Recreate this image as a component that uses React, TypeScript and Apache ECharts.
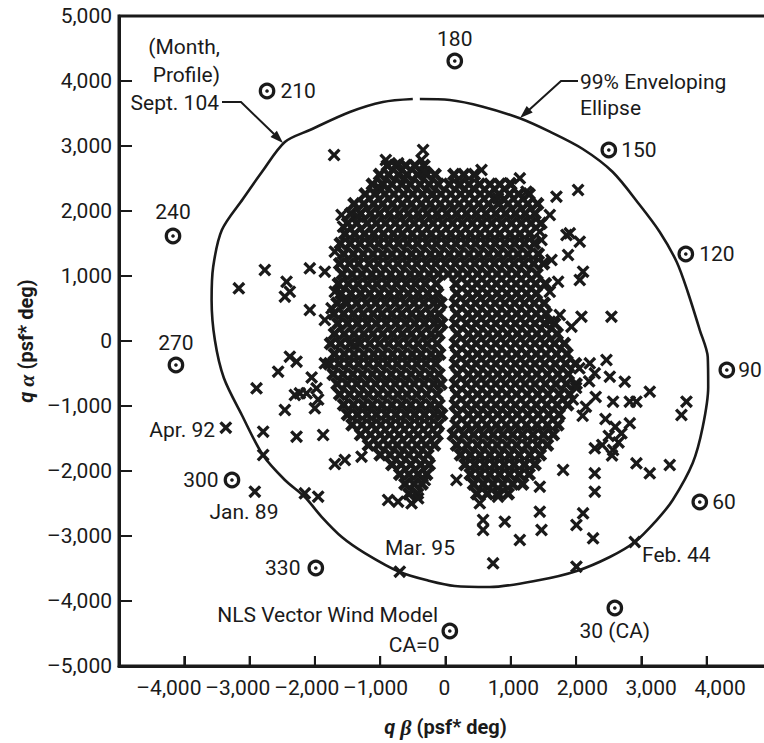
import { useEffect, useRef } from 'react';
import * as echarts from 'echarts';

const FONT = 'Roboto, "Liberation Sans", Arial, sans-serif';
const SERIF = '"Liberation Serif", "DejaVu Serif", serif';
const INK = '#1a1a1a';

// Axis extents (psf*deg)
const betaMin = -5000;
const betaMax = 5000;
const alphaMin = -5000;
const alphaMax = 5000;
const tickStep = 1000;
const tickValues = [-4000, -3000, -2000, -1000, 0, 1000, 2000, 3000, 4000];

// Monthly profiles of the NLS vector wind model (circled targets)
const profileNames = ['180', '210', '150', '240', '120', '270', '90', '300', '60', '330', '30 (CA)', 'CA=0'];
const profileBeta = [142, -2733, 2501, -4173, 3680, -4128, 4308, -3270, 3894, -1986, 2593, 66];
const profileAlpha = [4308, 3846, 2938, 1615, 1338, -369, -446, -2138, -2477, -3492, -4108, -4462];

// 99% enveloping ellipse, traced clockwise from the top
const envelopeBeta = [
  -393, 66, 571, 1138, 1597, 2102, 2561, 2975, 3281, 3541, 3710, 3894, 4016, 4023, 3939, 3786, 3480, 3235,
  2898, 2516, 2010, 1444, 678, 142, -240, -700, -1236, -1588, -1894, -2154, -2460, -2797, -3119, -3394,
  -3532, -3582, -3558, -3425, -3103, -2812, -2460, -2077, -1465, -960, -501,
];
const envelopeAlpha = [
  3723, 3708, 3605, 3426, 3220, 2954, 2600, 2092, 1677, 1215, 754, 169, -246, -708, -1323, -1877, -2446, -2754,
  -3092, -3323, -3538, -3677, -3785, -3769, -3692, -3554, -3262, -3015, -2708, -2400, -2138, -1754, -1138, -569,
  15, 631, 1138, 1708, 2185, 2600, 3062, 3246, 3523, 3677, 3723,
];

// Individual wind profiles lying apart from the main clusters  [q*beta, q*alpha]
const sparseMarks: number[][] = [
  [-1706, 2862], [-914, 2785], [-726, 2734], [-343, 2938], [-367, 2785], [-317, 2605], [-1032, 2374],
  [-980, 2323], [-623, 2503], [-214, 2246], [193, 2400], [551, 2631], [423, 2349], [984, 2426], [1138, 2503],
  [1240, 2297], [805, 2195], [1699, 2220], [2030, 2323], [1597, 1938], [1444, 1682], [1470, 1554], [1852, 1631],
  [2056, 1528], [1903, 1657], [1877, 1323], [1623, 1246], [2107, 1066], [2056, 938], [1724, 912], [1597, 758],
  [1597, 297], [1750, 400], [1929, 220], [2082, 374], [2541, 374],
  [-1592, 1938], [-1338, 1913], [-1568, 1759], [-1695, 1374], [-1848, 1066], [-2078, 1118], [-2767, 1092],
  [-3165, 811], [-2434, 912], [-2384, 758], [-2460, 682], [-2078, 477], [-1848, 323], [-1695, 758],
  [-1745, 503], [-1542, 605], [-1389, -62],
  [-2384, -241], [-2281, -318], [-2563, -472], [-2894, -728], [-2231, -805], [-2128, -805], [-1975, -728],
  [-2460, -1062], [-2001, -1036], [-2792, -1395], [-2281, -1472], [-1874, -1446], [-2792, -1754],
  [-2920, -2318], [-2154, -2343], [-1950, -2395], [-1695, -1892], [-1542, -1831], [-1286, -1780],
  [-879, -2446], [-726, -2472], [-520, -2497], [-419, -2420], [-700, -3549], [-317, -2138], [-3364, -1334],
  [-1848, -343], [-2307, -831], [-2050, -560], [-1950, -900],
  [2465, -292], [2286, -497], [2516, -549], [2745, -626], [3128, -780], [3690, -934], [3613, -1138],
  [2822, -934], [2924, -934], [2566, -934], [2822, -1266], [2694, -1420], [2566, -1677], [2924, -1882],
  [3128, -2036], [3434, -1908], [2286, -1651], [2286, -2036], [2286, -2318], [2107, -2651], [2005, -2831],
  [2260, -3036], [2898, -3092], [2005, -3472], [729, -3420], [1470, -2908], [1138, -3062], [908, -2780],
  [576, -2908], [576, -2754], [805, -2395], [525, -2497], [168, -2138], [1444, -2626], [1801, -1985],
  [1444, -2241], [2209, -343], [2450, -1200], [2600, -1320], [2500, -1460], [2650, -1560], [2400, -1600],
  [2550, -1760], [2050, -420], [2200, -620], [2000, -720], [2300, -860], [2150, -1010], [1950, -900],
  [2100, -1150],
];

// Dense body of the scatter, row by row: [q*alpha, q*beta values]
const denseRows: [number, number[]][] = [
  [2700, [-890, -760, -610, -470, -330]],
  [2560, [-1010, -870, -720, -590, -430, -290, -160, 130, 280, 440]],
  [2410, [-1120, -960, -820, -670, -540, -390, -250, -110, 60, 220, 360, 520, 680, 830, 1000]],
  [2260, [-1230, -1080, -930, -790, -640, -500, -350, -200, -70, 80, 230, 370, 530, 670, 820, 980, 1120, 1280]],
  [2110, [-1400, -1250, -1100, -960, -810, -660, -520, -370, -230, -80, 70, 210, 360, 510, 660, 810, 960, 1110, 1260, 1410]],
  [1960, [-1450, -1300, -1150, -1010, -860, -710, -570, -420, -280, -130, 20, 170, 320, 470, 620, 770, 920, 1070, 1220, 1370]],
  [1810, [-1500, -1360, -1200, -1060, -920, -770, -620, -480, -330, -190, -40, 110, 260, 410, 560, 710, 860, 1010, 1160, 1310, 1460]],
  [1650, [-1540, -1390, -1240, -1100, -950, -800, -660, -510, -360, -220, -70, 80, 230, 380, 530, 680, 830, 990, 1140, 1290]],
  [1500, [-1610, -1460, -1310, -1160, -1020, -870, -720, -580, -430, -280, -140, 10, 160, 310, 460, 610, 760, 910, 1060, 1210, 1360]],
  [1340, [-1560, -1410, -1260, -1110, -960, -820, -670, -520, -380, -230, -90, 60, 210, 360, 510, 660, 810, 960, 1110, 1260, 1420]],
  [1190, [-1620, -1470, -1330, -1170, -1030, -880, -730, -590, -440, -290, -150, 0, 150, 300, 450, 600, 750, 900, 1050, 1200, 1350, 1500]],
  [1030, [-1580, -1430, -1280, -1130, -990, -840, -690, -540, -400, -250, -110, 40, 190, 340, 490, 640, 790, 940, 1090, 1240, 1400]],
  [880, [-1640, -1490, -1340, -1190, -1050, -900, -750, -600, -460, -310, -140, 160, 330, 480, 630, 780, 930, 1080, 1230, 1380, 1530]],
  [730, [-1600, -1450, -1300, -1160, -1010, -860, -710, -570, -420, -270, -120, 170, 340, 490, 640, 790, 940, 1090, 1240, 1390]],
  [580, [-1660, -1510, -1360, -1210, -1070, -920, -770, -620, -480, -330, -180, -70, 150, 310, 460, 610, 760, 910, 1060, 1210, 1360, 1510]],
  [420, [-1710, -1560, -1410, -1260, -1110, -970, -820, -670, -520, -380, -230, -100, 170, 340, 490, 640, 790, 940, 1090, 1240, 1390, 1540]],
  [270, [-1650, -1500, -1350, -1200, -1060, -910, -760, -610, -470, -320, -170, -60, 150, 320, 470, 620, 770, 920, 1070, 1220, 1370, 1520, 1670]],
  [110, [-1700, -1550, -1400, -1250, -1110, -960, -810, -660, -520, -370, -220, -100, 180, 350, 500, 650, 800, 950, 1100, 1250, 1400, 1550, 1710]],
  [-40, [-1760, -1610, -1460, -1310, -1160, -1010, -870, -720, -570, -420, -280, -130, 150, 320, 470, 620, 770, 920, 1070, 1220, 1370, 1520, 1670, 1820]],
  [-200, [-1700, -1550, -1400, -1250, -1100, -960, -810, -660, -510, -370, -220, -90, 170, 340, 490, 640, 790, 940, 1090, 1240, 1390, 1540, 1700, 1860]],
  [-350, [-1780, -1630, -1480, -1330, -1180, -1030, -890, -740, -590, -440, -300, -150, 150, 320, 470, 620, 770, 920, 1070, 1220, 1370, 1520, 1680, 1840, 1990]],
  [-510, [-1720, -1570, -1420, -1270, -1120, -980, -830, -680, -530, -390, -240, -100, 180, 350, 500, 650, 800, 950, 1100, 1250, 1400, 1560, 1720, 1880]],
  [-660, [-1660, -1510, -1360, -1220, -1070, -920, -770, -620, -480, -330, -180, -70, 150, 320, 470, 620, 770, 920, 1070, 1220, 1370, 1530, 1690, 1850, 2000]],
  [-820, [-1620, -1470, -1320, -1180, -1030, -880, -730, -590, -440, -290, -130, 170, 340, 490, 640, 790, 940, 1090, 1250, 1410, 1570, 1740, 1900]],
  [-980, [-1560, -1410, -1260, -1120, -970, -820, -670, -530, -380, -230, -100, 150, 320, 470, 620, 770, 920, 1070, 1230, 1390, 1550, 1710, 1870]],
  [-1130, [-1500, -1350, -1200, -1060, -910, -760, -610, -470, -320, -170, -60, 180, 350, 500, 650, 800, 950, 1100, 1260, 1420, 1580, 1740]],
  [-1290, [-1430, -1280, -1130, -990, -840, -690, -550, -400, -250, -110, 160, 330, 480, 630, 780, 930, 1080, 1240, 1400, 1560, 1720]],
  [-1440, [-1300, -1150, -1000, -860, -710, -560, -420, -270, -130, 120, 280, 430, 580, 730, 880, 1030, 1180, 1340, 1500, 1650]],
  [-1600, [-1180, -1030, -880, -740, -590, -440, -300, -170, 170, 330, 490, 640, 790, 940, 1090, 1250, 1410, 1560]],
  [-1750, [-1000, -850, -700, -560, -410, -270, 230, 380, 530, 680, 830, 980, 1130, 1290, 1450]],
  [-1900, [-820, -680, -530, -380, -250, 300, 450, 600, 750, 900, 1050, 1210, 1370]],
  [-2050, [-700, -560, -420, -290, 380, 530, 680, 830, 980, 1130, 1280]],
  [-2200, [-620, -480, -360, 430, 580, 730, 880, 1030, 1180]],
  [-2350, [-560, -430, 480, 640, 800, 960]],
];

// Where each profile's label sits around its target
const labelPlacement: Record<string, { position: string; distance: number; offset?: number[] }> = {
  '180': { position: 'top', distance: 3 },
  '210': { position: 'right', distance: 5 },
  '150': { position: 'right', distance: 4 },
  '240': { position: 'top', distance: 5 },
  '120': { position: 'right', distance: 5 },
  '270': { position: 'top', distance: 3 },
  '90': { position: 'right', distance: 3 },
  '300': { position: 'left', distance: 5 },
  '60': { position: 'right', distance: 4 },
  '330': { position: 'left', distance: 7 },
  '30 (CA)': { position: 'bottom', distance: 4 },
  'CA=0': { position: 'left', distance: 2, offset: [0, 14] },
};

// Hand-drawn style crosses: a regular one and a heavier one for the packed core
const CROSS = 'path://M0,1.8L1.8,0L5,3.2L8.2,0L10,1.8L6.8,5L10,8.2L8.2,10L5,6.8L1.8,10L0,8.2L3.2,5Z';
const CROSS_HEAVY = 'path://M0,2.3L2.3,0L5,2.7L7.7,0L10,2.3L7.3,5L10,7.7L7.7,10L5,7.3L2.3,10L0,7.7L2.7,5Z';

function fmt(v: number): string {
  const s = Math.abs(v).toLocaleString('en-US');
  return v < 0 ? '\u2013' + s : s;
}

function note(text: string, x: number, y: number, align: string) {
  return {
    type: 'text',
    x,
    y,
    z: 20,
    style: {
      text,
      fill: INK,
      fontFamily: FONT,
      fontSize: 21,
      align,
      textAlign: align,
      verticalAlign: 'middle',
      textVerticalAlign: 'middle',
    },
  };
}

export default function App() {
  const ref = useRef<HTMLDivElement>(null);

  useEffect(() => {
    if (!ref.current) return;
    const chart = echarts.init(ref.current, null, { renderer: 'svg' });

    const dense = denseRows.flatMap(([alpha, betas]) => betas.map((b) => [b, alpha]));
    const envelope = envelopeBeta.map((b, i) => [b, envelopeAlpha[i]]);
    const profiles = profileNames.map((name, i) => {
      const p = labelPlacement[name];
      return {
        name,
        value: [profileBeta[i], profileAlpha[i]],
        label: {
          show: true,
          formatter: '{b}',
          position: p.position,
          distance: p.distance,
          offset: p.offset || [0, 0],
          fontFamily: FONT,
          fontSize: 21,
          color: INK,
        },
      };
    });
    const profileCenters = profileBeta.map((b, i) => [b, profileAlpha[i]]);

    const titleRich = {
      q: { fontFamily: FONT, fontSize: 20, fontWeight: 'bold', fontStyle: 'italic', color: INK },
      g: { fontFamily: SERIF, fontSize: 22, fontStyle: 'italic', color: INK },
    };

    const annotations: any[] = [
      note('(Month,', 220, 47, 'right'),
      note('Profile)', 220, 75, 'right'),
      note('Sept. 104', 219, 103, 'right'),
      note('99% Enveloping', 580, 82, 'left'),
      note('Ellipse', 580, 108, 'left'),
      note('Apr. 92', 215, 430, 'right'),
      note('Jan. 89', 244, 512, 'center'),
      note('Mar. 95', 420, 548, 'center'),
      note('NLS Vector Wind Model', 438, 615, 'right'),
      note('Feb. 44', 642, 555, 'left'),
      {
        type: 'polyline',
        z: 20,
        shape: { points: [[222, 102], [241, 102], [274, 134]] },
        style: { stroke: INK, lineWidth: 2, fill: null },
      },
      {
        type: 'polygon',
        z: 20,
        shape: { points: [[283, 143], [270.5, 137.1], [276.9, 130.7]] },
        style: { fill: INK },
      },
      {
        type: 'polyline',
        z: 20,
        shape: { points: [[578, 81], [561, 81], [529, 110]] },
        style: { stroke: INK, lineWidth: 2, fill: null },
      },
      {
        type: 'polygon',
        z: 20,
        shape: { points: [[520, 118], [532.7, 112.6], [526.7, 106.0]] },
        style: { fill: INK },
      },
    ];

    const option: any = {
      animation: false,
      backgroundColor: '#ffffff',
      grid: [
        {
          left: 119,
          top: 16,
          width: 653,
          height: 650,
          outerBoundsMode: 'none',
          show: true,
          borderColor: INK,
          borderWidth: 3,
          backgroundColor: 'transparent',
        },
        // the printed q*beta scale numbers run slightly wider than the tick marks
        { left: 100, top: 16, width: 689, height: 650, outerBoundsMode: 'none', show: false },
      ],
      xAxis: [
        {
          type: 'value',
          gridIndex: 0,
          min: betaMin,
          max: betaMax,
          interval: tickStep,
          name: '{q|q} {g|\u03b2} (psf* deg)',
          nameLocation: 'middle',
          nameGap: 50,
          nameMoveOverlap: false,
          nameTextStyle: {
            fontFamily: FONT,
            fontSize: 20,
            fontWeight: 'bold',
            color: INK,
            rich: titleRich,
          },
          axisLine: { show: true, onZero: false, lineStyle: { color: INK, width: 3 } },
          axisTick: { show: true, inside: true, length: 10, lineStyle: { color: INK, width: 2 } },
          axisLabel: { show: false },
          splitLine: { show: false },
        },
        {
          type: 'value',
          gridIndex: 1,
          min: betaMin,
          max: betaMax,
          interval: tickStep,
          axisLine: { show: false, onZero: false },
          axisTick: { show: false },
          axisLabel: {
            margin: 11,
            fontFamily: FONT,
            fontSize: 21,
            color: INK,
            formatter: (v: number) => (v === betaMin || v === betaMax ? '' : fmt(v)),
          },
          splitLine: { show: false },
        },
      ],
      yAxis: [
        {
          type: 'value',
          gridIndex: 0,
          min: alphaMin,
          max: alphaMax,
          interval: tickStep,
          name: '{q|q} {g|\u03b1} (psf* deg)',
          nameLocation: 'middle',
          nameRotate: 90,
          nameGap: 82,
          nameMoveOverlap: false,
          nameTextStyle: {
            fontFamily: FONT,
            fontSize: 20,
            fontWeight: 'bold',
            color: INK,
            rich: titleRich,
          },
          axisLine: { show: true, onZero: false, lineStyle: { color: INK, width: 3 } },
          axisTick: { show: true, inside: true, length: 13, lineStyle: { color: INK, width: 2 } },
          axisLabel: {
            margin: 7,
            fontFamily: FONT,
            fontSize: 21,
            color: INK,
            formatter: (v: number) => fmt(v),
          },
          splitLine: { show: false },
        },
        {
          type: 'value',
          gridIndex: 1,
          min: alphaMin,
          max: alphaMax,
          interval: tickStep,
          show: false,
        },
      ],
      series: [
        {
          name: '99% Enveloping Ellipse',
          type: 'line',
          data: envelope,
          smooth: 0.3,
          symbol: 'none',
          lineStyle: { color: INK, width: 2.6 },
          z: 2,
          silent: true,
        },
        {
          name: 'Profiles (core)',
          type: 'scatter',
          data: dense,
          symbol: CROSS_HEAVY,
          symbolSize: 14,
          itemStyle: { color: INK, opacity: 1 },
          z: 3,
          silent: true,
        },
        {
          name: 'Profiles',
          type: 'scatter',
          data: sparseMarks,
          symbol: CROSS,
          symbolSize: 13,
          itemStyle: { color: INK, opacity: 1 },
          z: 3,
          silent: true,
        },
        {
          name: 'NLS Vector Wind Model',
          type: 'scatter',
          data: profiles,
          symbol: 'circle',
          symbolSize: 13.5,
          itemStyle: { color: '#ffffff', borderColor: INK, borderWidth: 3.2, opacity: 1 },
          z: 4,
          silent: true,
        },
        {
          name: 'Model centres',
          type: 'scatter',
          data: profileCenters,
          symbol: 'circle',
          symbolSize: 3.6,
          itemStyle: { color: INK, opacity: 1 },
          z: 5,
          silent: true,
        },
      ],
      graphic: annotations,
    };

    chart.setOption(option);

    // Inward tick marks along the left and bottom frame, placed through the axis scales
    const ticks: any[] = [];
    tickValues.forEach((v) => {
      const [lx, ly] = chart.convertToPixel({ gridIndex: 0 }, [betaMin, v]) as number[];
      ticks.push({
        type: 'line',
        z: 6,
        shape: { x1: lx, y1: ly, x2: lx + 13, y2: ly },
        style: { stroke: INK, lineWidth: 2 },
      });
      const [bx, by] = chart.convertToPixel({ gridIndex: 0 }, [v, alphaMin]) as number[];
      ticks.push({
        type: 'line',
        z: 6,
        shape: { x1: bx, y1: by, x2: bx, y2: by - 10 },
        style: { stroke: INK, lineWidth: 2 },
      });
    });
    chart.setOption({ graphic: [...annotations, ...ticks] });

    return () => chart.dispose();
  }, []);

  return (
    <div
      ref={ref}
      style={{ position: 'fixed', left: 0, top: 0, width: 764, height: 743, background: '#ffffff' }}
    />
  );
}
